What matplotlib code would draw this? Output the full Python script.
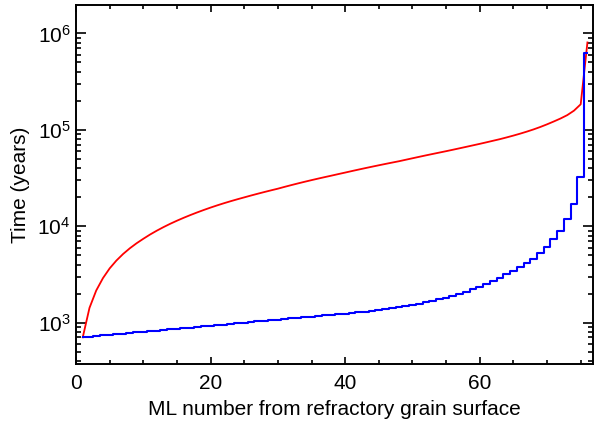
import matplotlib

matplotlib.use("Agg")
import matplotlib.pyplot as plt
import numpy as np
from matplotlib.ticker import FixedLocator, FuncFormatter, LogLocator, MultipleLocator

# ML number from the refractory grain surface
ml_number = list(range(1, 77))

# time per monolayer (blue, histogram style)
time_per_ml = [
    703, 713, 724, 734, 745, 756, 767, 778, 789, 801,
    813, 824, 836, 849, 861, 874, 887, 900, 913, 926,
    940, 954, 968, 982, 996, 1011, 1026, 1041, 1056, 1072,
    1087, 1103, 1120, 1136, 1153, 1170, 1187, 1205, 1222, 1240,
    1260, 1280, 1300, 1322, 1345, 1372, 1400, 1435, 1475, 1520,
    1568, 1620, 1677, 1740, 1810, 1890, 1985, 2090, 2205, 2330,
    2490, 2690, 2915, 3160, 3420, 3770, 4120, 4590, 5230, 6040,
    7320, 8930, 11800, 17000, 32400, 630000,
]

# total elapsed time (red)
time_total = [
    703, 1420, 2150, 2890, 3650, 4400, 5150, 5900, 6650, 7400,
    8190, 8980, 9780, 10590, 11400, 12220, 13050, 13890, 14740, 15600,
    16460, 17320, 18180, 19040, 19900, 20800, 21710, 22630, 23560, 24500,
    25590, 26690, 27800, 28920, 30050, 31190, 32340, 33500, 34740, 36000,
    37330, 38680, 40050, 41440, 42850, 44280, 45730, 47200, 48900, 50650,
    52450, 54300, 56150, 58050, 60000, 62100, 64300, 66600, 69000, 71500,
    74200, 77050, 80000, 83400, 87100, 91200, 95800, 101000, 107000, 114000,
    122000, 131000, 142000, 158000, 184000, 806000,
]

x_ticks = [0, 20, 40, 60]
y_decades = [3, 4, 5, 6]


def main():
    plt.rcParams["font.family"] = ["Liberation Sans", "DejaVu Sans"]
    plt.rcParams["mathtext.fontset"] = "custom"
    plt.rcParams["mathtext.rm"] = "Liberation Sans"

    fig = plt.figure(figsize=(5.94, 4.21), dpi=100)
    ax = fig.add_axes([0.128, 0.135, 0.870, 0.853])

    ax.plot(ml_number, time_total, color="#ff0000", lw=1.3)
    ax.plot(ml_number, time_per_ml, color="#0000ff", lw=1.5,
            drawstyle="steps-mid")

    ax.set_yscale("log")
    ax.set_xlim(0, 76.8)
    ax.set_ylim(370, 1.97e6)

    ax.xaxis.set_major_locator(FixedLocator(x_ticks))
    ax.xaxis.set_minor_locator(MultipleLocator(5))
    ax.yaxis.set_major_locator(FixedLocator([10.0 ** d for d in y_decades]))
    ax.yaxis.set_minor_locator(LogLocator(base=10, subs=np.arange(2, 10)))
    ax.yaxis.set_major_formatter(
        FuncFormatter(lambda v, pos: r"$\mathregular{10^{%d}}$" % round(np.log10(v)))
    )

    for side in ax.spines.values():
        side.set_linewidth(1.4)

    ax.tick_params(axis="both", which="both", direction="in",
                   top=True, right=True, width=1.2, labelsize=15)
    ax.tick_params(axis="x", which="major", length=5, pad=7)
    ax.tick_params(axis="x", which="minor", length=2.6)
    ax.tick_params(axis="y", which="major", length=7.5, pad=4)
    ax.tick_params(axis="y", which="minor", length=3.7)

    ax.set_xlabel("ML number from refractory grain surface", fontsize=15,
                  labelpad=5)
    ax.set_ylabel("Time (years)", fontsize=15, labelpad=5)

    fig.savefig("out.png", dpi=100)


if __name__ == "__main__":
    main()
